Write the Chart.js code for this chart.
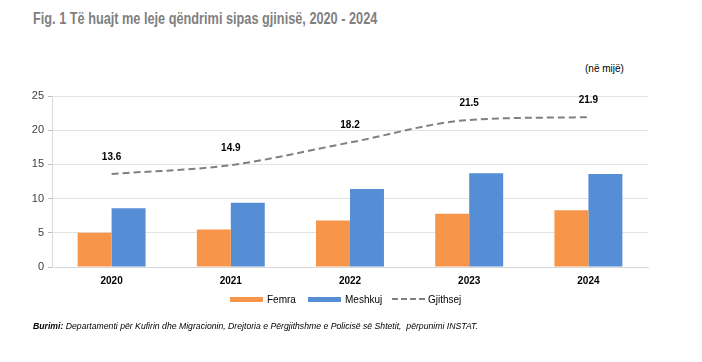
<!DOCTYPE html>
<html><head><meta charset="utf-8">
<script src="https://cdn.jsdelivr.net/npm/chart.js@4.4.0/dist/chart.umd.min.js"></script>
<style>
body{margin:0;background:#fff;width:702px;height:362px;overflow:hidden;position:relative;font-family:"Liberation Sans",Arial,sans-serif;}
#title{position:absolute;left:33px;top:10px;font-weight:bold;font-size:16px;color:#7f7f7f;white-space:nowrap;transform:scaleX(0.795);transform-origin:0 0;}
#unit{position:absolute;left:585px;top:63px;font-size:10px;color:#000;}
#wrap{position:absolute;left:0;top:0;width:702px;height:362px;}
#legend{position:absolute;top:292px;left:0;width:702px;height:14px;font-size:10px;color:#000;}
.li{position:absolute;top:0;display:flex;align-items:center;height:14px;}
.sw{width:33px;height:5px;margin-right:4px;}
.dash{width:33px;height:0;border-top:2px dashed #808080;margin-right:3px;}
#src{position:absolute;left:33px;top:321px;font-size:9px;font-style:italic;color:#000;white-space:nowrap;transform:scaleX(0.963);transform-origin:0 0;}
</style></head><body>
<div id="title">Fig. 1 Të huajt me leje qëndrimi sipas gjinisë, 2020 - 2024</div>
<div id="unit">(në mijë)</div>
<div id="wrap"><canvas id="c" width="702" height="362"></canvas></div>
<div id="legend">
 <div class="li" style="left:230px"><div class="sw" style="background:#F7964A"></div>Femra</div>
 <div class="li" style="left:308px"><div class="sw" style="background:#558ED5"></div>Meshkuj</div>
 <div class="li" style="left:392px"><div class="dash"></div>Gjithsej</div>
</div>
<div id="src"><b>Burimi:</b> Departamenti për Kufirin dhe Migracionin, Drejtoria e Përgjithshme e Policisë së Shtetit,&nbsp; përpunimi INSTAT.</div>
<script>
const years = ["2020","2021","2022","2023","2024"];
const femra = [5.0, 5.5, 6.8, 7.8, 8.3];
const meshkuj = [8.6, 9.4, 11.4, 13.7, 13.6];
const gjithsej = [13.6, 14.9, 18.2, 21.5, 21.9];
const yTicks = [0, 5, 10, 15, 20, 25];

const lineLabels = {
  id: 'lineLabels',
  afterDatasetsDraw(chart) {
    const ctx = chart.ctx;
    const meta = chart.getDatasetMeta(2);
    ctx.save();
    ctx.font = 'bold 10px "Liberation Sans", Arial, sans-serif';
    ctx.fillStyle = '#000';
    ctx.textAlign = 'center';
    ctx.textBaseline = 'middle';
    meta.data.forEach((pt, i) => {
      ctx.fillText(gjithsej[i].toFixed(1), pt.x, pt.y - 17);
    });
    ctx.restore();
  }
};

new Chart(document.getElementById('c'), {
  data: {
    labels: years,
    datasets: [
      {type:'bar', label:'Femra', data:femra, backgroundColor:'#F7964A', order:2},
      {type:'bar', label:'Meshkuj', data:meshkuj, backgroundColor:'#558ED5', order:2},
      {type:'line', label:'Gjithsej', data:gjithsej, borderColor:'#808080', borderWidth:2,
       borderDash:[7,4], pointRadius:0, cubicInterpolationMode:'monotone', fill:false, order:1}
    ]
  },
  options: {
    responsive:false, animation:false,
    layout:{padding:{left:0,right:54,top:96,bottom:0}},
    plugins:{legend:{display:false}, tooltip:{enabled:false}},
    datasets:{bar:{categoryPercentage:0.57, barPercentage:1.0}},
    scales:{
      x:{
        grid:{display:false, drawTicks:false},
        border:{color:'#d9d9d9'},
        ticks:{padding:8, color:'#000', font:{size:10, weight:'bold', family:'"Liberation Sans", Arial, sans-serif'}},
        afterFit(s){ s.height = 95; }
      },
      y:{
        min:0, max:25,
        afterBuildTicks(s){ s.ticks = yTicks.map(v=>({value:v})); },
        grid:{color:'#e3e3e3', tickLength:4, tickColor:'#bfbfbf'},
        border:{color:'#d9d9d9'},
        ticks:{padding:4, color:'#404040', font:{size:11, family:'"Liberation Sans", Arial, sans-serif'}},
        afterFit(s){ s.width = 52; }
      }
    }
  },
  plugins:[lineLabels]
});
</script>
</body></html>
